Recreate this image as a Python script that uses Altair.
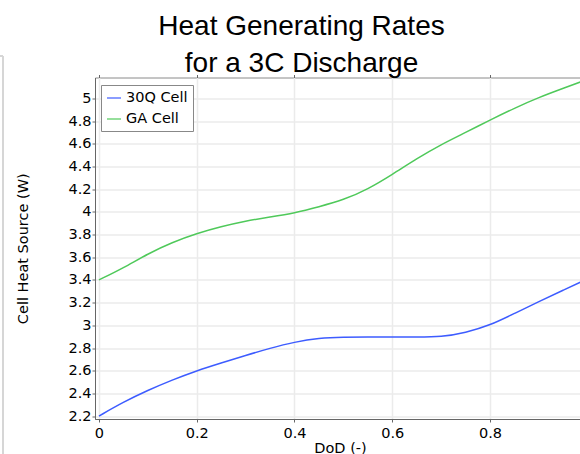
import altair as alt
import pandas as pd

# Depth of discharge sample points
dod = [0.0, 0.05, 0.1, 0.15, 0.2, 0.25, 0.3, 0.35, 0.4, 0.45, 0.5, 0.55,
       0.6, 0.65, 0.7, 0.75, 0.8, 0.85, 0.9, 0.95, 1.0]

# Cell heat source (W) for each cell type
heat_30q = [2.20, 2.323, 2.427, 2.518, 2.60, 2.668, 2.735, 2.798, 2.853, 2.888,
            2.897, 2.897, 2.897, 2.897, 2.897, 2.935, 3.00, 3.105, 3.21, 3.31, 3.41]
heat_ga = [3.40, 3.506, 3.631, 3.731, 3.81, 3.87, 3.92, 3.955, 3.99, 4.045,
           4.105, 4.20, 4.33, 4.47, 4.595, 4.70, 4.81, 4.915, 5.01, 5.09, 5.17]

series_names = ["30Q Cell", "GA Cell"]
series_colors = ["#3d5cff", "#4fc95a"]

x_ticks = [0, 0.2, 0.4, 0.6, 0.8]
y_ticks = [2.2, 2.4, 2.6, 2.8, 3, 3.2, 3.4, 3.6, 3.8, 4, 4.2, 4.4, 4.6, 4.8, 5]

rows = []
for d, a, b in zip(dod, heat_30q, heat_ga):
    rows.append({"DoD": d, "Heat": a, "Cell": series_names[0]})
    rows.append({"DoD": d, "Heat": b, "Cell": series_names[1]})
df = pd.DataFrame(rows)

FONT = "DejaVu Sans"
FS = 14.5

x_scale = alt.Scale(domain=[-0.008, 0.984], nice=False, zero=False)
y_scale = alt.Scale(domain=[2.174, 5.185], nice=False, zero=False)

lines = alt.Chart(df).mark_line(strokeWidth=1.5, clip=True, interpolate="basis").encode(
    x=alt.X("DoD:Q", scale=x_scale,
            axis=alt.Axis(values=x_ticks, format="~g", title="DoD (-)",
                          titleX=245, titleY=29, titleBaseline="middle",
                          labelPadding=4)),
    y=alt.Y("Heat:Q", scale=y_scale,
            axis=alt.Axis(values=y_ticks, format="~g", title="Cell Heat Source (W)",
                          titleX=-71.5, titleY=170.75, titleAngle=-90,
                          titleBaseline="middle", titleAlign="center",
                          labelPadding=1)),
    color=alt.Color("Cell:N",
                    scale=alt.Scale(domain=series_names, range=series_colors),
                    legend=alt.Legend(title=None, orient="none", legendX=6, legendY=7.5,
                                      strokeColor="#888888", fillColor="white",
                                      padding=5, symbolType="stroke", symbolSize=196,
                                      symbolStrokeWidth=1.2, labelFont=FONT,
                                      labelFontSize=FS, labelColor="black",
                                      labelOffset=4, rowPadding=6)),
)

# Tick marks along the top edge of the frame
top_ticks = alt.Chart(df).mark_line(opacity=0).encode(
    x=alt.X("DoD:Q", scale=x_scale,
            axis=alt.Axis(values=x_ticks, orient="top", labels=False, domain=False,
                          grid=False, title=None, ticks=True, tickSize=3)),
    y=alt.Y("Heat:Q", scale=y_scale, axis=None),
)

# Edge of the neighbouring panel on the left
panel_edge = alt.Chart(df).mark_rule(color="#d6d6d6", strokeWidth=1.5, clip=False).encode(
    x=alt.value(-92), y=alt.value(-21.5), y2=alt.value(377)
)
panel_cap = alt.Chart(df).mark_rule(color="#d6d6d6", strokeWidth=1.5, clip=False).encode(
    x=alt.value(-95), x2=alt.value(-92), y=alt.value(-21.5)
)

chart = alt.layer(lines, top_ticks, panel_edge, panel_cap).resolve_axis(
    x="independent", y="independent"
).properties(
    width=485,
    height=341.5,
    autosize=alt.AutoSizeParams(type="none"),
    padding={"left": 95, "top": 77.5, "right": 0, "bottom": 35},
    title=alt.TitleParams(
        text=["Heat Generating Rates", "for a 3C Discharge"],
        font="Liberation Sans", fontSize=28, fontWeight="normal", color="black",
        anchor="middle", frame="group", dx=-36, dy=27, lineHeight=37, offset=4,
    ),
    background="white",
).configure_view(
    stroke="#8a8a8a", strokeWidth=1
).configure_axis(
    labelFont=FONT, labelFontSize=FS, labelColor="black",
    titleFont=FONT, titleFontSize=FS, titleFontWeight="normal", titleColor="black",
    tickColor="#666666", tickSize=3, domainColor="#666666",
    gridColor="#ebebeb", gridWidth=1.5,
)

chart.save("out.html", embed_options={"renderer": "svg", "actions": False})
